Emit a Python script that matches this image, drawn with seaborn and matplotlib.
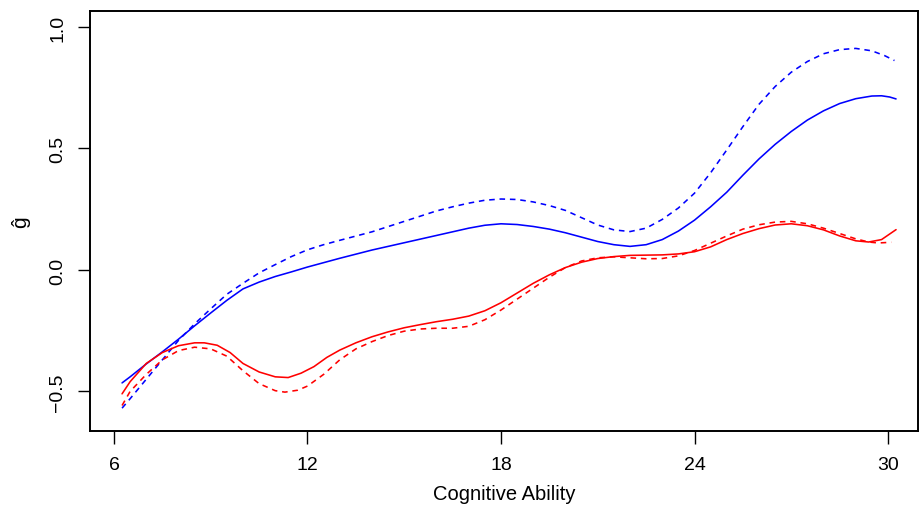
import matplotlib
matplotlib.use("Agg")
import matplotlib.pyplot as plt
import seaborn as sns
import pandas as pd

# ---- data ----
x_blue_solid = [6.25, 6.5, 7, 7.5, 8, 8.5, 9, 9.5, 10, 10.5, 11, 11.5, 12, 13, 14, 15, 16, 17, 17.5, 18, 18.5, 19, 19.5, 20, 20.5, 21, 21.5, 22, 22.5, 23, 23.5, 24, 24.5, 25, 25.5, 26, 26.5, 27, 27.5, 28, 28.5, 29, 29.5, 29.8, 30.05, 30.25]
y_blue_solid = [-0.465, -0.44, -0.387, -0.337, -0.285, -0.23, -0.177, -0.125, -0.078, -0.05, -0.027, -0.008, 0.012, 0.048, 0.082, 0.112, 0.142, 0.172, 0.184, 0.19, 0.187, 0.179, 0.168, 0.153, 0.135, 0.117, 0.104, 0.097, 0.104, 0.125, 0.16, 0.205, 0.26, 0.32, 0.39, 0.457, 0.517, 0.57, 0.617, 0.655, 0.685, 0.705, 0.716, 0.717, 0.712, 0.704]

x_blue_dash = [6.25, 6.5, 7, 7.5, 8, 8.5, 9, 9.5, 10, 10.5, 11, 11.5, 12, 12.5, 13, 14, 15, 16, 16.5, 17, 17.5, 18, 18.5, 19, 19.5, 20, 20.5, 21, 21.5, 22, 22.5, 23, 23.5, 24, 24.5, 25, 25.5, 26, 26.5, 27, 27.5, 28, 28.5, 29, 29.5, 29.9, 30.2]
y_blue_dash = [-0.569, -0.53, -0.45, -0.37, -0.29, -0.222, -0.16, -0.1, -0.055, -0.012, 0.022, 0.055, 0.083, 0.104, 0.122, 0.157, 0.2, 0.243, 0.26, 0.275, 0.287, 0.292, 0.29, 0.28, 0.265, 0.245, 0.215, 0.185, 0.165, 0.158, 0.172, 0.208, 0.255, 0.316, 0.4, 0.494, 0.59, 0.682, 0.755, 0.814, 0.858, 0.89, 0.907, 0.912, 0.902, 0.882, 0.862]

x_red_solid = [6.25, 6.5, 7, 7.5, 8, 8.5, 8.8, 9.2, 9.6, 10, 10.5, 11, 11.4, 11.8, 12.2, 12.6, 13, 13.5, 14, 14.5, 15, 15.5, 16, 16.5, 17, 17.5, 18, 18.5, 19, 19.5, 20, 20.5, 21, 21.5, 22, 23, 23.5, 24, 24.5, 25, 25.5, 26, 26.5, 27, 27.5, 28, 28.5, 29, 29.4, 29.8, 30.25]
y_red_solid = [-0.51, -0.46, -0.385, -0.34, -0.312, -0.3, -0.3, -0.31, -0.34, -0.385, -0.42, -0.44, -0.443, -0.425, -0.398, -0.36, -0.33, -0.3, -0.275, -0.255, -0.238, -0.225, -0.213, -0.203, -0.19, -0.168, -0.135, -0.095, -0.055, -0.02, 0.01, 0.032, 0.047, 0.055, 0.06, 0.062, 0.066, 0.075, 0.095, 0.125, 0.15, 0.17, 0.185, 0.19, 0.182, 0.165, 0.14, 0.12, 0.115, 0.125, 0.166]

x_red_dash = [6.25, 6.5, 7, 7.5, 8, 8.5, 9, 9.5, 10, 10.5, 11, 11.3, 11.7, 12, 12.5, 13, 13.5, 14, 14.5, 15, 15.5, 16, 16.5, 17, 17.5, 18, 18.5, 19, 19.5, 20, 20.5, 21, 21.5, 22, 22.5, 23, 23.5, 24, 24.5, 25, 25.5, 26, 26.5, 27, 27.5, 28, 28.5, 29, 29.4, 29.7, 30.1]
y_red_dash = [-0.558, -0.5, -0.43, -0.37, -0.332, -0.318, -0.325, -0.355, -0.415, -0.468, -0.497, -0.503, -0.495, -0.478, -0.43, -0.37, -0.325, -0.295, -0.27, -0.252, -0.243, -0.24, -0.24, -0.232, -0.205, -0.165, -0.12, -0.075, -0.03, 0.01, 0.037, 0.05, 0.054, 0.05, 0.046, 0.047, 0.058, 0.08, 0.11, 0.14, 0.168, 0.186, 0.197, 0.2, 0.19, 0.172, 0.15, 0.128, 0.115, 0.111, 0.114]

x_ticks = [6, 12, 18, 24, 30]
y_ticks = [-0.5, 0.0, 0.5, 1.0]
y_tick_labels = ["\u22120.5", "0.0", "0.5", "1.0"]
x_label = "Cognitive Ability"
y_label = "\u011d"

# ---- figure ----
sns.set_theme(style="white")
plt.rcParams["font.family"] = ["Liberation Sans", "DejaVu Sans"]

fig = plt.figure(figsize=(9.21, 5.06), dpi=100)
ax = fig.add_axes([90 / 921, 1 - 432 / 506, (918 - 90) / 921, (432 - 12) / 506])

series = [
    (x_blue_dash, y_blue_dash, "#0000FF", (0, (3.5, 3))),
    (x_blue_solid, y_blue_solid, "#0000FF", "-"),
    (x_red_dash, y_red_dash, "#FF0000", (0, (3.5, 3))),
    (x_red_solid, y_red_solid, "#FF0000", "-"),
]
for xs, ys, col, ls in series:
    df = pd.DataFrame({"x": xs, "y": ys})
    sns.lineplot(data=df, x="x", y="y", ax=ax, color=col, linewidth=1.15,
                 linestyle=ls, sort=True, estimator=None)

ax.set_xlim(5.256, 30.93)
ax.set_ylim(-0.663, 1.066)
ax.set_xticks(x_ticks)
ax.set_xticklabels([str(t) for t in x_ticks])
ax.set_yticks(y_ticks)
ax.set_yticklabels(y_tick_labels, rotation=90, va="center")

for s in ax.spines.values():
    s.set_visible(True)
    s.set_color("black")
    s.set_linewidth(1.4)

ax.tick_params(axis="both", which="both", direction="out", length=9, width=1.0,
               color="black", labelsize=14, labelcolor="black",
               left=True, bottom=True)
ax.tick_params(axis="x", pad=9)
ax.tick_params(axis="y", pad=8)

ax.set_xlabel(x_label, fontsize=14.5, color="black", labelpad=8)
ax.set_ylabel(y_label, fontsize=15, color="black", labelpad=14)
ax.grid(False)

fig.savefig("out.png", dpi=100, facecolor="white")
